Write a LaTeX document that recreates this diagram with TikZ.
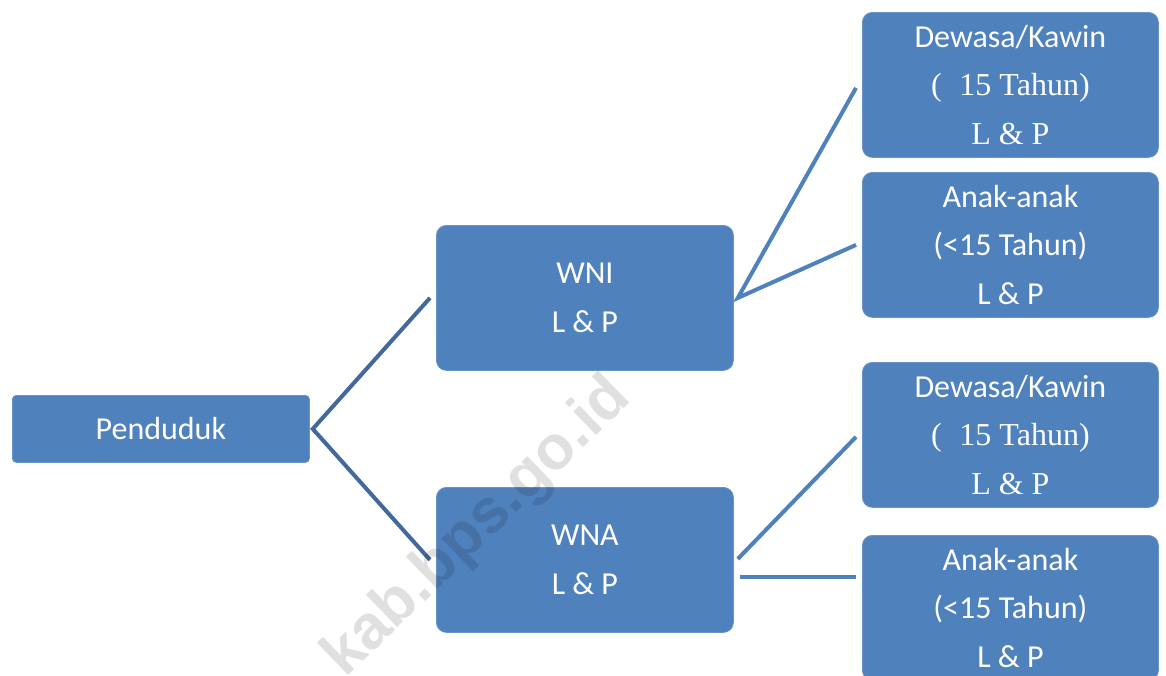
\documentclass[tikz,border=0pt]{standalone}
\usepackage{fontspec}
\setmainfont{Carlito}
\newfontfamily\tnr{Liberation Serif}
\newfontfamily\wmfont{Liberation Sans}
\usetikzlibrary{calc}
\definecolor{boxblue}{HTML}{4F81BD}
\definecolor{darkline}{HTML}{41699B}
\tikzset{
  box/.style={anchor=north west, fill=boxblue, draw=boxblue!85!white, line width=0.8pt,
    rounded corners=10pt, text=white, align=center, inner sep=0pt,
    font=\fontsize{32}{48.5}\selectfont},
  smallbox/.style={box, rounded corners=4pt},
  conn/.style={line width=4pt, draw=boxblue},
  darkconn/.style={line width=4pt, draw=darkline}
}
\newcommand{\serif}{\fontsize{32}{48.5}\selectfont\tnr}
\begin{document}
\begin{tikzpicture}[x=1pt,y=-1pt]
\useasboundingbox (0,0) rectangle (1166,675);
\clip (0,0) rectangle (1166,675);
\fill[white] (0,0) rectangle (1166,675);

\node[smallbox, minimum width=297pt, minimum height=67pt] (pen) at (12,395) {Penduduk};
\node[box, minimum width=297pt, minimum height=145pt] (wni) at (436,225) {WNI\\L \& P};
\node[box, minimum width=297pt, minimum height=145pt] (wna) at (436,487) {WNA\\L \& P};
\node[box, minimum width=296pt, minimum height=145pt] (r1) at (862,12) {Dewasa/Kawin\\{\serif(\hspace{0.55em}15 Tahun)}\\{\serif L \& P}};
\node[box, minimum width=296pt, minimum height=145pt] (r2) at (862,172) {Anak-anak\\(<15 Tahun)\\L \& P};
\node[box, minimum width=296pt, minimum height=145pt] (r3) at (862,362) {Dewasa/Kawin\\{\serif(\hspace{0.55em}15 Tahun)}\\{\serif L \& P}};
\node[box, minimum width=296pt, minimum height=145pt] (r4) at (862,535) {Anak-anak\\(<15 Tahun)\\L \& P};

\coordinate (penR) at ($(pen.east)+(3,0)$);
\coordinate (wniL) at ($(wni.west)+(-6,0)$);
\coordinate (wnaL) at ($(wna.west)+(-6,0)$);
\coordinate (wniR) at ($(wni.east)+(4,0)$);
\coordinate (wnaR) at ($(wna.east)+(4,-1)$);
\coordinate (wnaR2) at ($(wna.east)+(6,17)$);
\coordinate (r1L) at ($(r1.west)+(-6,3)$);
\coordinate (r2L) at ($(r2.west)+(-6,0)$);
\coordinate (r3L) at ($(r3.west)+(-6,2)$);
\coordinate (r4L) at ($(r4.west)+(-6,-31)$);

\draw[darkconn] (wniL) -- (penR) -- (wnaL);
\draw[conn] (r1L) -- (wniR) -- (r2L);
\draw[conn] (wnaR) -- (r3L);
\draw[conn, line width=3.5pt] (wnaR2) -- (r4L);

\node[rotate=44, font=\wmfont\bfseries\fontsize{62}{62}\selectfont, text=black, opacity=0.12] (wm) at (478,528) {kab.bps.go.id};
\end{tikzpicture}
\end{document}
